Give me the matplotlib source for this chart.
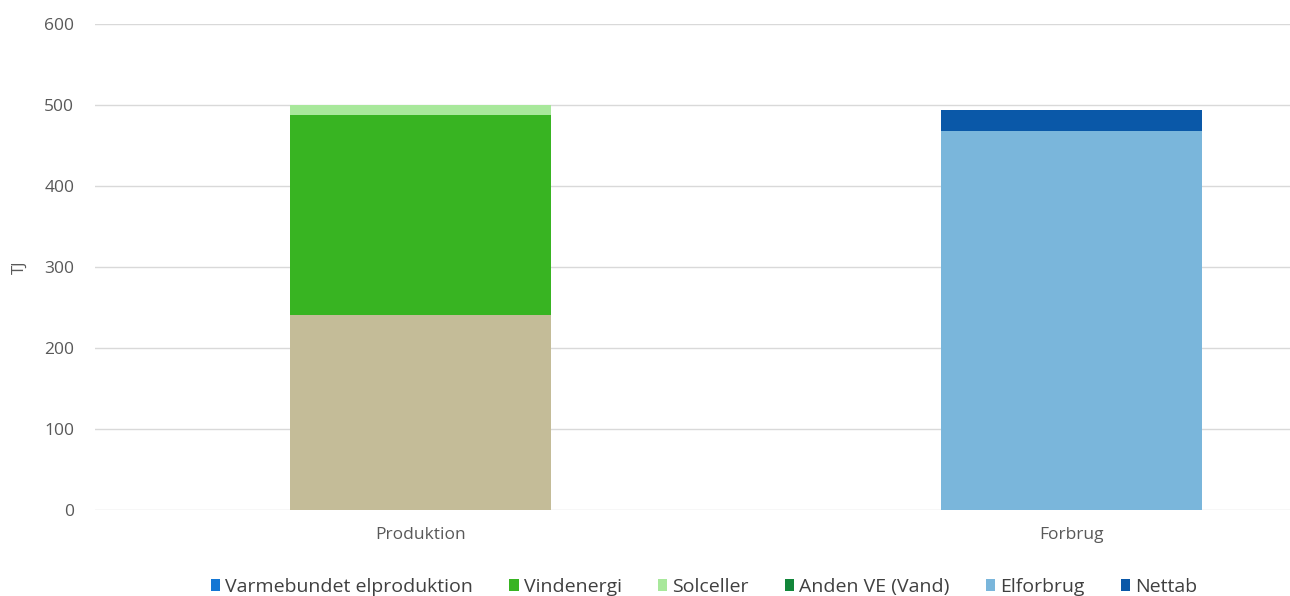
import matplotlib.pyplot as plt
from matplotlib.patches import Patch

categories = ['Produktion', 'Forbrug']

# stacked segments, bottom to top (TJ)
andet = [241, 0]                 # tan base segment, no legend entry
varmebundet = [0, 0]
vindenergi = [247, 0]
solceller = [12, 0]
anden_ve = [0, 0]
elforbrug = [0, 468]
nettab = [0, 26]

series = [
    ('_andet', andet, '#C4BC98'),
    ('Varmebundet elproduktion', varmebundet, '#1477D4'),
    ('Vindenergi', vindenergi, '#38B422'),
    ('Solceller', solceller, '#A8E89B'),
    ('Anden VE (Vand)', anden_ve, '#12863A'),
    ('Elforbrug', elforbrug, '#7AB6DB'),
    ('Nettab', nettab, '#0A58A8'),
]

plt.rcParams['font.family'] = ['Open Sans', 'DejaVu Sans']

fig = plt.figure(figsize=(12.9, 5.96), dpi=100)
ax = fig.add_axes([95 / 1290, 1 - 510 / 596, 1195 / 1290, 486 / 596])

x = list(range(len(categories)))
bottom = [0] * len(categories)
handles = []
for name, vals, col in series:
    ax.bar(x, vals, width=0.40, bottom=bottom, color=col, zorder=3)
    bottom = [b + v for b, v in zip(bottom, vals)]
    if not name.startswith('_'):
        handles.append(Patch(facecolor=col, label=name))

ax.set_ylim(0, 600)
ax.set_xlim(-0.5, 1.3356)
ax.set_yticks(range(0, 601, 100))
ax.set_xticks(x)
ax.set_xticklabels(categories)
ax.tick_params(axis='both', length=0, labelsize=12.5, labelcolor='#595959')
ax.tick_params(axis='y', pad=15)
ax.tick_params(axis='x', pad=12)
ax.grid(axis='y', color='#D9D9D9', linewidth=1, zorder=0)
for s in ax.spines.values():
    s.set_visible(False)
ax.set_ylabel('TJ', color='#595959', fontsize=12, labelpad=12)

fig.legend(handles=handles, loc='center', bbox_to_anchor=(704 / 1290, 1 - 587 / 596),
           ncol=6, frameon=False, fontsize=14, handlelength=0.5, handleheight=0.6,
           handletextpad=0.25, columnspacing=1.85, labelcolor='#404040')

fig.savefig('out.png', dpi=100)
